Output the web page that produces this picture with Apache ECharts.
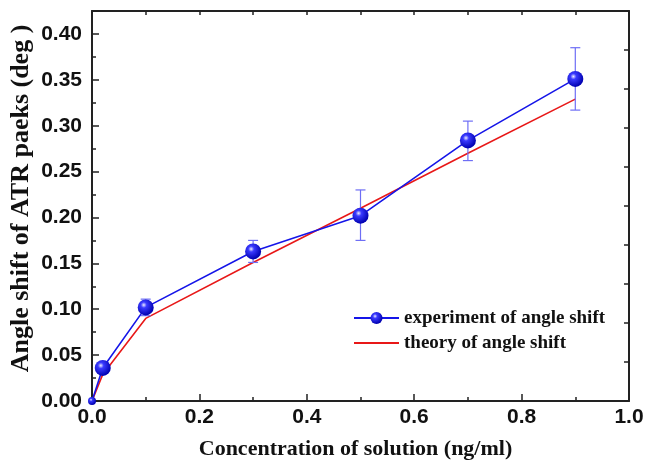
<!DOCTYPE html>
<html>
<head>
<meta charset="utf-8">
<script src="https://cdn.jsdelivr.net/npm/echarts@6/dist/echarts.min.js"></script>
<style>
  html, body { margin: 0; padding: 0; background: #fff; }
  #chart { width: 647px; height: 461px; }
</style>
</head>
<body>
<div id="chart"></div>
<script>
// values
const concentration = [0, 0.02, 0.1, 0.3, 0.5, 0.7, 0.9];
const experiment = [0, 0.036, 0.102, 0.163, 0.202, 0.284, 0.351];
const theory = [0, 0.029, 0.090, 0.151, 0.210, 0.270, 0.329];
// error bars (only the points that have them)
const errX = [0.1, 0.3, 0.5, 0.7, 0.9];
const errLow = [0.093, 0.151, 0.175, 0.262, 0.317];
const errHigh = [0.111, 0.175, 0.230, 0.305, 0.385];

const sansBold = { fontFamily: 'Liberation Sans', fontWeight: 'bold', fontSize: 21, color: '#111' };
const axisLine = { show: true, onZero: false, lineStyle: { color: '#222', width: 2 } };

const ball = {
  type: 'radial', x: 0.38, y: 0.35, r: 0.65,
  colorStops: [
    { offset: 0, color: '#ececff' },
    { offset: 0.28, color: '#3a3aff' },
    { offset: 1, color: '#0000b0' },
  ],
};

const chart = echarts.init(document.getElementById('chart'));

const option = {
  animation: false,
  backgroundColor: '#fff',
  grid: { left: 92, right: 18, top: 11, bottom: 60, outerBoundsMode: 'none', containLabel: false },
  legend: {
    orient: 'vertical',
    left: 348,
    top: 303,
    itemWidth: 45,
    itemHeight: 15,
    itemGap: 5,
    textStyle: { fontFamily: 'Liberation Serif', fontWeight: 'bold', fontSize: 19, lineHeight: 20, color: '#111' },
    data: [
      'experiment of angle shift',
      { name: 'theory of angle shift', itemStyle: { opacity: 0 } },
    ],
  },
  xAxis: [
    {
      type: 'value', min: 0, max: 1, interval: 0.2, position: 'bottom',
      name: 'Concentration of solution (ng/ml)', nameLocation: 'middle', nameGap: 37,
      nameMoveOverlap: false,
      nameTextStyle: {
        fontFamily: 'Liberation Serif', fontWeight: 'bold', fontSize: 22, color: '#111',
        padding: [0, 10, 0, 0],
      },
      axisLine,
      axisTick: { inside: true, length: 7, lineStyle: { color: '#222', width: 1.5 } },
      minorTick: { show: true, splitNumber: 2, length: 4, lineStyle: { color: '#222', width: 1.5 } },
      axisLabel: { ...sansBold, margin: 6, formatter: (v) => v.toFixed(1) },
      splitLine: { show: false },
    },
    {
      type: 'value', min: 0, max: 1, interval: 0.1, position: 'top',
      axisLine,
      axisTick: { inside: true, length: 4, lineStyle: { color: '#222', width: 1.5 } },
      axisLabel: { show: false },
      splitLine: { show: false },
    },
  ],
  yAxis: [
    {
      type: 'value', min: 0, max: 0.425, interval: 0.05, position: 'left',
      name: 'Angle shift of ATR paeks (deg )', nameLocation: 'middle', nameGap: 58,
      nameMoveOverlap: false,
      nameTextStyle: {
        fontFamily: 'Liberation Serif', fontWeight: 'bold', fontSize: 26, color: '#111',
        padding: [0, 0, 0, 15],
      },
      axisLine,
      axisTick: { inside: true, length: 7, lineStyle: { color: '#222', width: 1.5 } },
      minorTick: { show: true, splitNumber: 2, length: 4, lineStyle: { color: '#222', width: 1.5 } },
      axisLabel: { ...sansBold, margin: 10, formatter: (v) => (v > 0.41 ? '' : v.toFixed(2)) },
      splitLine: { show: false },
    },
    {
      type: 'value', min: 0, max: 1, interval: 0.1, position: 'right',
      axisLine,
      axisTick: { inside: true, length: 5, lineStyle: { color: '#222', width: 1.5 } },
      axisLabel: { show: false },
      splitLine: { show: false },
    },
  ],
  series: [
    {
      name: 'theory of angle shift',
      type: 'line',
      symbol: 'none',
      data: concentration.map((x, i) => [x, theory[i]]),
      lineStyle: { color: '#e81818', width: 1.6 },
      itemStyle: { color: '#e81818' },
      z: 2,
    },
    {
      type: 'custom',
      name: 'error',
      data: errX.map((x, i) => [x, errLow[i], errHigh[i]]),
      renderItem: (params, api) => {
        const lo = api.coord([api.value(0), api.value(1)]);
        const hi = api.coord([api.value(0), api.value(2)]);
        const cap = 5;
        const style = { stroke: '#6e6ef5', lineWidth: 1.2 };
        return {
          type: 'group',
          children: [
            { type: 'line', shape: { x1: lo[0], y1: lo[1], x2: hi[0], y2: hi[1] }, style },
            { type: 'line', shape: { x1: lo[0] - cap, y1: lo[1], x2: lo[0] + cap, y2: lo[1] }, style },
            { type: 'line', shape: { x1: hi[0] - cap, y1: hi[1], x2: hi[0] + cap, y2: hi[1] }, style },
          ],
        };
      },
      z: 3,
    },
    {
      name: 'experiment of angle shift',
      type: 'line',
      symbol: 'circle',
      symbolSize: 16,
      data: concentration.map((x, i) =>
        i === 0 ? { value: [x, experiment[i]], symbolSize: 8 } : [x, experiment[i]]),
      lineStyle: { color: '#1515e8', width: 1.6 },
      itemStyle: { color: ball, borderWidth: 0 },
      z: 4,
    },
  ],
};

chart.setOption(option);
</script>
</body>
</html>
